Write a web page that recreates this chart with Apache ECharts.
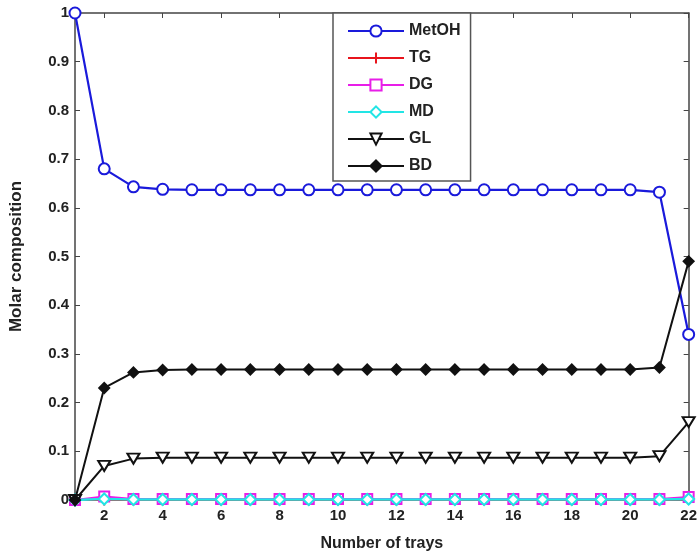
<!DOCTYPE html>
<html><head><meta charset="utf-8">
<script src="https://cdn.jsdelivr.net/npm/echarts@6/dist/echarts.min.js"></script>
<style>html,body{margin:0;padding:0;background:#fff}#c{width:700px;height:557px}</style>
</head><body><div id="c"></div>
<script>
const trays = [1,2,3,4,5,6,7,8,9,10,11,12,13,14,15,16,17,18,19,20,21,22];
const xTicks = [2,4,6,8,10,12,14,16,18,20,22];
const metoh = [1,0.68,0.643,0.638,0.637,0.637,0.637,0.637,0.637,0.637,0.637,0.637,0.637,0.637,0.637,0.637,0.637,0.637,0.637,0.637,0.632,0.34];
const tg = [0,0,0,0,0,0,0,0,0,0,0,0,0,0,0,0,0,0,0,0,0,0.002];
const dg = [0,0.007,0.002,0.002,0.002,0.002,0.002,0.002,0.002,0.002,0.002,0.002,0.002,0.002,0.002,0.002,0.002,0.002,0.002,0.002,0.002,0.006];
const md = [0,0.002,0.001,0.001,0.001,0.001,0.001,0.001,0.001,0.001,0.001,0.001,0.001,0.001,0.001,0.001,0.001,0.001,0.001,0.001,0.001,0.002];
const gl = [0,0.07,0.085,0.087,0.087,0.087,0.087,0.087,0.087,0.087,0.087,0.087,0.087,0.087,0.087,0.087,0.087,0.087,0.087,0.087,0.09,0.16];
const bd = [0,0.23,0.262,0.267,0.268,0.268,0.268,0.268,0.268,0.268,0.268,0.268,0.268,0.268,0.268,0.268,0.268,0.268,0.268,0.268,0.272,0.49];

const pair = arr => trays.map((t,i)=>[t,arr[i]]);
const F = 'Liberation Sans, Arial, sans-serif';
function mk(name, data, color, symbol, size, filled, width) {
  return {
    name, type:'line', data: pair(data), symbol, symbolSize: size,
    showSymbol:true,
    lineStyle:{color, width: width||2},
    itemStyle:{color: filled ? color : '#fff', borderColor: color, borderWidth: 2},
    emphasis:{disabled:true}, animation:false
  };
}
const chart = echarts.init(document.getElementById('c'));
chart.setOption({
  backgroundColor:'#fff',
  animation:false,
  grid:{left:74, right:8, top:13, bottom:57},
  legend:{
    orient:'vertical', left:333, top:13, width:143,
    padding:[10,10,7,14], itemGap:11, itemWidth:56, itemHeight:14,
    borderColor:'#555', borderWidth:1.5, backgroundColor:'#fff',
    textStyle:{fontFamily:F, fontSize:16, fontWeight:'bold', color:'#222'},
    data:['MetOH','TG','DG','MD','GL','BD']
  },
  xAxis:[{
    type:'value', min:1, max:22,
    name:'Number of trays', nameLocation:'middle', nameGap:36,
    nameTextStyle:{fontFamily:F, fontSize:16, fontWeight:'bold', color:'#222'},
    axisLine:{onZero:false, lineStyle:{color:'#444', width:1.5}},
    axisTick:{inside:true, length:5, customValues:xTicks, lineStyle:{color:'#444'}},
    axisLabel:{customValues:xTicks, fontFamily:F, fontSize:15, fontWeight:'bold', color:'#222', margin:8},
    splitLine:{show:false}
  },{
    type:'value', min:1, max:22, position:'top',
    axisLine:{onZero:false, lineStyle:{color:'#444', width:1.5}},
    axisTick:{inside:true, length:5, customValues:xTicks, lineStyle:{color:'#444'}},
    axisLabel:{show:false}, splitLine:{show:false}
  }],
  yAxis:[{
    type:'value', min:0, max:1, interval:0.1,
    name:'Molar composition', nameLocation:'middle', nameGap:50,
    nameTextStyle:{fontFamily:F, fontSize:17, fontWeight:'bold', color:'#222'},
    axisLine:{show:true, onZero:false, lineStyle:{color:'#444', width:1.5}},
    axisTick:{show:true, inside:true, length:5, lineStyle:{color:'#444'}},
    axisLabel:{fontFamily:F, fontSize:15, fontWeight:'bold', color:'#222', margin:6,
      formatter: v => (Math.round(v*10)/10).toString()},
    splitLine:{show:false}
  },{
    type:'value', min:0, max:1, interval:0.1, position:'right',
    axisLine:{show:true, onZero:false, lineStyle:{color:'#444', width:1.5}},
    axisTick:{show:true, inside:true, length:5, lineStyle:{color:'#444'}},
    axisLabel:{show:false}, splitLine:{show:false}
  }],
  series:[
    mk('MetOH', metoh, '#1a1adb', 'circle', 11, false, 2.2),
    mk('TG', tg, '#e8141c', 'path://M0,5L10,5M5,0L5,10', 11, false, 2),
    mk('DG', dg, '#e81ee8', 'rect', 10, false, 2),
    mk('MD', md, '#22e5e5', 'diamond', 11, false, 2.4),
    mk('GL', gl, '#111', 'path://M0,0L12,0L6,10Z', [12,10], false, 2),
    mk('BD', bd, '#111', 'diamond', 10, true, 2)
  ]
});
</script></body></html>
